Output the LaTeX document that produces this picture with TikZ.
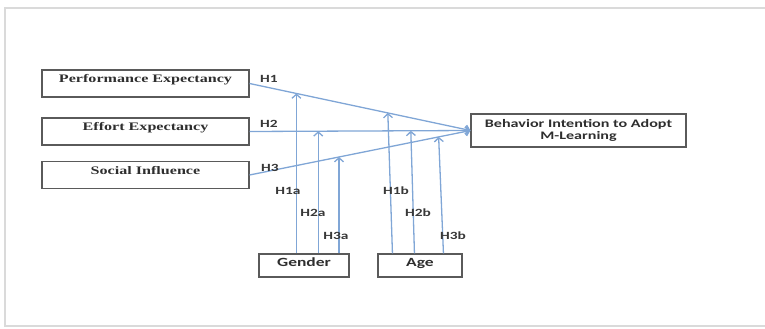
\documentclass[tikz,border=0pt]{standalone}
\usepackage{fontspec}
\setmainfont{Liberation Serif}
\newfontfamily\calibri{Carlito}
\usepackage{graphicx}
\usetikzlibrary{arrows.meta, calc}
\definecolor{linkblue}{RGB}{128, 166, 214}
\definecolor{boxgray}{RGB}{90, 90, 90}
\definecolor{framegray}{RGB}{218, 218, 218}
\newcommand{\wide}[1]{\scalebox{1.4}[1]{#1}}

\begin{document}
\begin{tikzpicture}[x=1pt, y=-1pt,
        >={Straight Barb[length=4pt,width=9pt]},
        every node/.style={font=\fontsize{11.5}{12.5}\selectfont},
        construct/.style={draw=boxgray, line width=1.1pt, inner sep=0pt,
          minimum width=207pt, minimum height=27pt, text height=8pt, text depth=10pt,
          text=black!82, font=\fontsize{11.5}{12.5}\selectfont\bfseries},
        moderator/.style={draw=boxgray, line width=1.1pt, inner sep=0pt,
          minimum height=23pt, text height=8.5pt, text depth=6pt,
          text=black!82, font=\calibri\fontsize{12.5}{13}\selectfont\bfseries},
        hyp/.style={inner sep=0pt, text=black!78, font=\calibri\fontsize{11}{12}\selectfont\bfseries},
        link/.style={->, linkblue, line width=1.3pt}]

        \useasboundingbox (0,0) rectangle (765,329);

        % Frame
        \draw[framegray, line width=2pt] (5,8) rectangle (800,326);

        % Constructs
        \node[construct] (perf) at (145.5,83.5) {\wide{Performance Expectancy}};
        \node[construct] (effort) at (145.5,131.5) {\wide{Effort Expectancy}};
        \node[construct] (social) at (145.5,175) {\wide{Social Influence}};
        \node[draw=boxgray, line width=1.1pt, minimum width=215pt, minimum height=33pt,
          align=center, text=black!82, font=\calibri\fontsize{11.5}{12.5}\selectfont\bfseries]
          (intent) at (578.5,130.5) {\wide{Behavior Intention to Adopt}\\\wide{M-Learning}};

        % Moderators
        \node[moderator, minimum width=90pt] (gender) at (304,265.5) {\wide{Gender}};
        \node[moderator, minimum width=84pt] (age) at (420,265.5) {\wide{Age}};

        % Direct paths
        \draw[link] (perf.east) -- coordinate[pos=0.212] (h1a) coordinate[pos=0.626] (h1b) (intent.west);
        \draw[link] (effort.east) -- coordinate[pos=0.311] (h2a) coordinate[pos=0.73] (h2b) (intent.west);
        \draw[link] (social.east) -- coordinate[pos=0.405] (h3a) coordinate[pos=0.856] (h3b) (intent.west);

        % Moderating paths
        \draw[link] (h1a |- gender.north) -- (h1a);
        \draw[link] (h2a |- gender.north) -- (h2a);
        \draw[link] (h3a |- gender.north) -- (h3a);
        \draw[link] ([xshift=15pt]age.north west) -- (h1b);
        \draw[link] ([xshift=37pt]age.north west) -- (h2b);
        \draw[link] ([xshift=66pt]age.north west) -- (h3b);

        % Labels
        \node[hyp] (l1) at (269,79) {\wide{H1}};
        \node[hyp] (l2) at (269,124) {\wide{H2}};
        \node[hyp] (l3) at (270,168) {\wide{H3}};
        \node[hyp] (l1a) at (288,191) {\wide{H1a}};
        \node[hyp] (l2a) at (313,213) {\wide{H2a}};
        \node[hyp] (l3a) at (336,236) {\wide{H3a}};
        \node[hyp] (l1b) at (396,191) {\wide{H1b}};
        \node[hyp] (l2b) at (418,213) {\wide{H2b}};
        \node[hyp] (l3b) at (453,236) {\wide{H3b}};

    \end{tikzpicture}
\end{document}
